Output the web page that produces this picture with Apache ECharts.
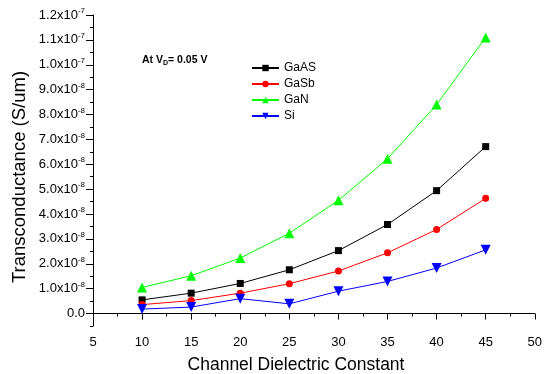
<!DOCTYPE html>
<html>
<head>
<meta charset="utf-8">
<script src="https://cdn.jsdelivr.net/npm/echarts@6/dist/echarts.min.js"></script>
<style>html,body{margin:0;padding:0;background:#fff}#c{width:545px;height:374px}</style>
</head>
<body>
<div id="c"></div>
<script>
const dielectric = [10, 15, 20, 25, 30, 35, 40, 45];
const gaAS = [0.55e-8, 0.82e-8, 1.21e-8, 1.76e-8, 2.53e-8, 3.58e-8, 4.94e-8, 6.71e-8];
const gaSb = [0.36e-8, 0.52e-8, 0.82e-8, 1.20e-8, 1.71e-8, 2.44e-8, 3.38e-8, 4.63e-8];
const gaN  = [1.05e-8, 1.52e-8, 2.23e-8, 3.23e-8, 4.55e-8, 6.22e-8, 8.40e-8, 11.1e-8];
const si   = [0.18e-8, 0.26e-8, 0.60e-8, 0.39e-8, 0.90e-8, 1.29e-8, 1.83e-8, 2.56e-8];
const yTicks = [0, 1e-8, 2e-8, 3e-8, 4e-8, 5e-8, 6e-8, 7e-8, 8e-8, 9e-8, 1e-7, 1.1e-7, 1.2e-7];

const FONT = 'Liberation Sans, Arial, sans-serif';
function pairs(arr) { return dielectric.map((x, i) => [x, arr[i]]); }
function yLabel(v) {
  if (Math.abs(v) < 1e-12) return '{m|0.0}';
  let e = Math.floor(Math.log10(Math.abs(v)) + 1e-9);
  let m = v / Math.pow(10, e);
  return '{m|' + m.toFixed(1) + 'x10}{s|' + e + '}';
}

const chart = echarts.init(document.getElementById('c'), null, {renderer: 'canvas'});
const mk = (name, data, color, symbol, size, rot) => ({
  name, type: 'line', data: pairs(data), yAxisIndex: 0,
  symbol, symbolSize: size, symbolRotate: rot || 0,
  lineStyle: {color, width: 1}, itemStyle: {color},
  emphasis: {disabled: true}, animation: false
});
chart.setOption({
  animation: false,
  textStyle: {fontFamily: FONT},
  grid: {left: 93, right: 5, top: 15, bottom: 48, containLabel: false},
  legend: {
    orient: 'vertical', left: 251, top: 62, padding: 0,
    itemWidth: 27, itemHeight: 8, itemGap: 4,
    textStyle: {fontFamily: FONT, fontSize: 12, color: '#000', padding: [0, 0, 0, 0]},
    data: ['GaAS', 'GaSb', 'GaN', 'Si']
  },
  xAxis: {
    type: 'value', min: 5, max: 50, interval: 5,
    axisLine: {lineStyle: {color: '#000', width: 1}},
    axisTick: {show: true, inside: false, length: 6, lineStyle: {color: '#000'}},
    minorTick: {show: true, splitNumber: 2, length: 3, lineStyle: {color: '#000'}},
    splitLine: {show: false},
    axisLabel: {fontFamily: FONT, fontSize: 13, color: '#000', margin: 10}
  },
  yAxis: [{
    type: 'value', min: -5e-9, max: 1.2e-7,
    axisLine: {show: true, lineStyle: {color: '#000', width: 1}},
    axisTick: {show: true, length: 7, customValues: yTicks, lineStyle: {color: '#000'}},
    splitLine: {show: false},
    axisLabel: {
      customValues: yTicks, margin: 8, formatter: yLabel,
      rich: {
        m: {fontFamily: FONT, fontSize: 13, color: '#000'},
        s: {fontFamily: FONT, fontSize: 8, color: '#000', verticalAlign: 'bottom', padding: [0, 0, 8, 0]}
      }
    }
  }, {
    type: 'value', min: -5e-9, max: 1.2e-7, interval: 5e-9, position: 'left',
    axisLine: {show: false},
    axisTick: {show: true, length: 3, lineStyle: {color: '#000'}},
    axisLabel: {show: false}, splitLine: {show: false}
  }],
  graphic: [
    {type: 'text', left: 142, top: 55, style: {
      text: 'At V{d|D}= 0.05 V', fontFamily: FONT, fontSize: 10.5, fontWeight: 'bold', fill: '#000',
      rich: {d: {fontSize: 7, fontWeight: 'bold', fontFamily: FONT, fill: '#000', verticalAlign: 'top', padding: [6, 0, 0, 0]}}
    }},
    {type: 'text', x: 296, y: 365, style: {
      text: 'Channel Dielectric Constant', fontFamily: FONT, fontSize: 17.5, fill: '#000',
      align: 'center', verticalAlign: 'middle'
    }},
    {type: 'text', x: 20, y: 177, rotation: Math.PI / 2, style: {
      text: 'Transconductance (S/um)', fontFamily: FONT, fontSize: 18.5, fill: '#000',
      align: 'center', verticalAlign: 'middle'
    }}
  ],
  series: [
    mk('GaAS', gaAS, '#000000', 'rect', 7),
    mk('GaSb', gaSb, '#ff0000', 'circle', 7),
    mk('GaN', gaN, '#00ff00', 'triangle', 10),
    mk('Si', si, '#0000ff', 'triangle', 10, 180)
  ]
});
</script>
</body>
</html>
